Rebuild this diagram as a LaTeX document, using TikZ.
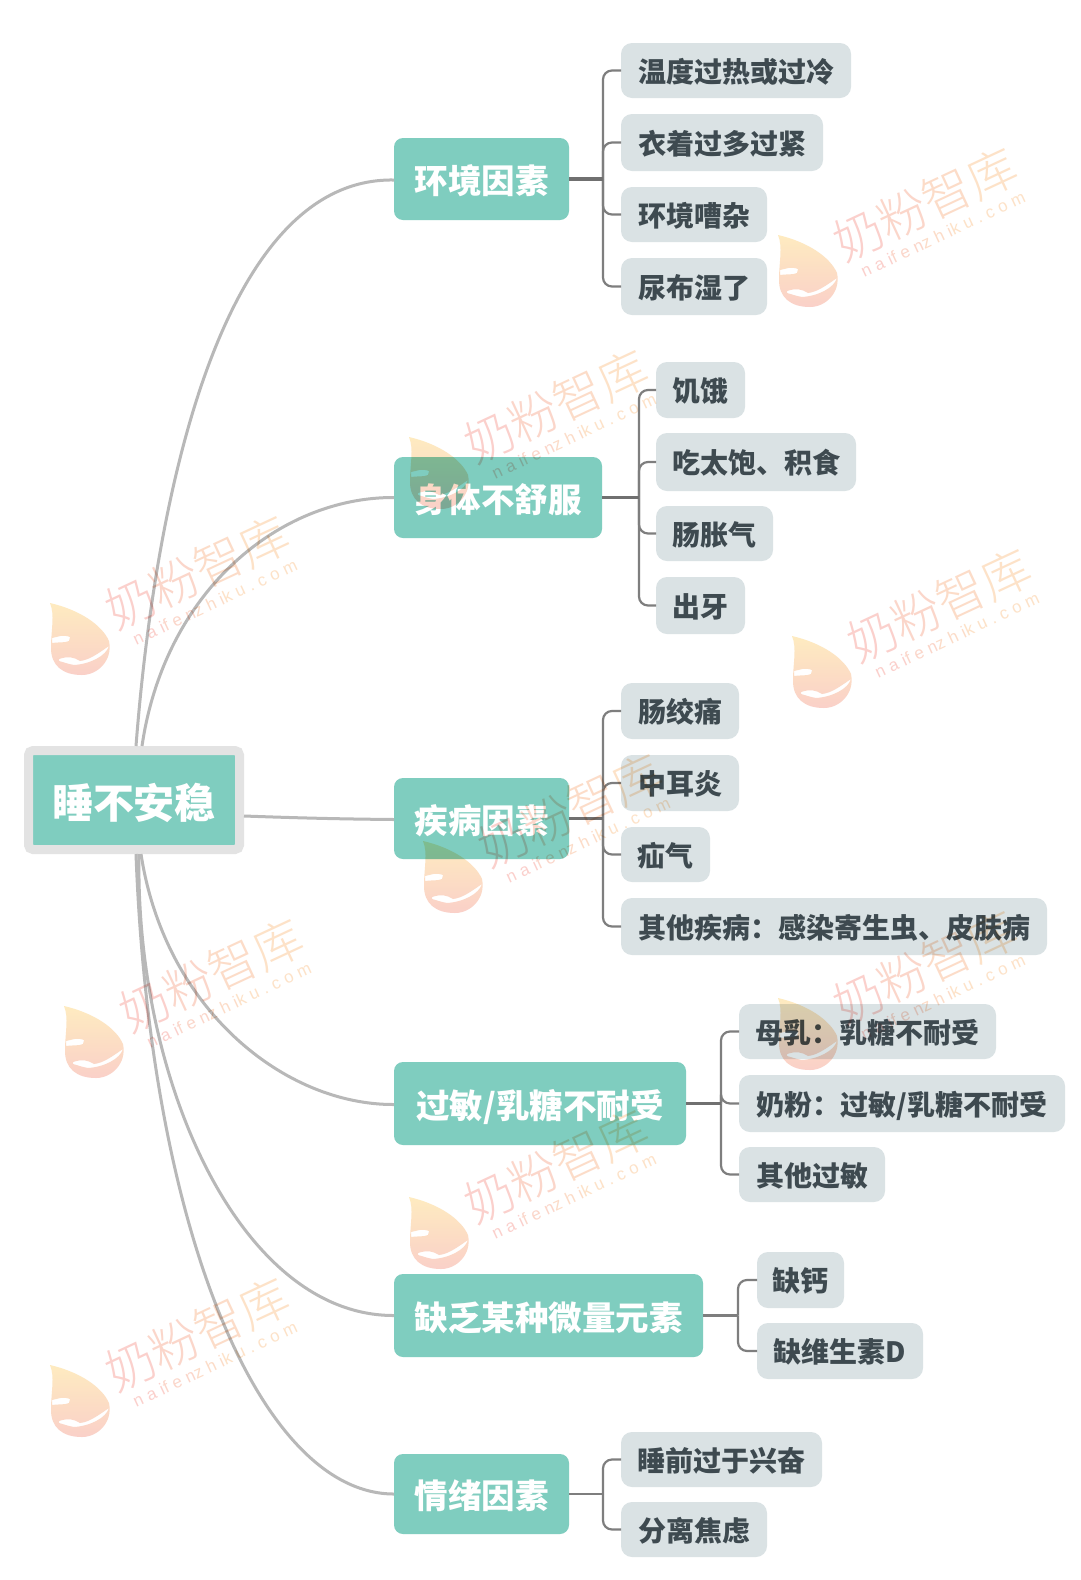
\documentclass[tikz,border=0pt]{standalone}
\usepackage{fontspec}
\setmainfont{Noto Sans CJK SC}
\newfontfamily\wmfont{Noto Sans CJK SC Light}
\newfontfamily\wmlat[LetterSpace=30]{Liberation Sans}
\definecolor{teal1}{HTML}{7FCDBF}
\definecolor{leaffill}{HTML}{DAE2E4}
\definecolor{leaftext}{HTML}{3E4A50}
\definecolor{curvegray}{HTML}{B8B8B8}
\definecolor{branchgray}{HTML}{7E7E7E}
\definecolor{stemgray}{HTML}{707070}
\definecolor{rootrim}{HTML}{E3E3E3}
\definecolor{wmo1}{HTML}{FBD0CC}
\definecolor{wmo2}{HTML}{FBD6CA}
\definecolor{wmo3}{HTML}{FCDCC8}
\definecolor{wmo4}{HTML}{FDE2C8}
\definecolor{wmy}{HTML}{FEEBC0}
\definecolor{wmb}{HTML}{FAD0C8}
\tikzset{
  rootbox/.style={fill=teal1,draw=rootrim,line width=9pt,rounded corners=4.5pt,text=white,font=\fontsize{41}{41}\selectfont\bfseries,inner sep=0pt},
  topicbox/.style={fill=teal1,rounded corners=9pt,text=white,font=\fontsize{33.5}{33.5}\selectfont\bfseries,inner sep=0pt,outer sep=0pt},
  leafbox/.style={fill=leaffill,rounded corners=11pt,text=leaftext,font=\fontsize{28}{28}\selectfont\bfseries,inner sep=0pt,outer sep=0pt},
  maincurve/.style={draw=curvegray,line width=3pt},
  branchline/.style={draw=branchgray,line width=2.2pt,rounded corners=9pt},
  stemline/.style={draw=stemgray,line width=3.4pt},
  thinstem/.style={draw=branchgray,line width=2.2pt},
  wmmain/.style={inner sep=0pt,rotate=25,font=\fontsize{49}{49}\selectfont\wmfont},
  wmsub/.style={inner sep=0pt,rotate=25,font=\fontsize{17}{17}\selectfont\wmlat},
}
\newcommand{\lf}[6]{\node[leafbox,minimum width={(#4-#2)*1pt},minimum height={(#5-#3)*1pt}] (#1) at ({(#2+#4)/2},{(#3+#5)/2}) {\raisebox{-11.6pt}[0pt][0pt]{#6}};}
\newcommand{\tp}[6]{\node[topicbox,minimum width={(#4-#2)*1pt},minimum height={(#5-#3)*1pt}] (#1) at ({(#2+#4)/2},{(#3+#5)/2}) {\raisebox{-14.7pt}[0pt][0pt]{#6}};}
\newcommand{\br}[3]{\draw[branchline] (#2 |- #1.east) -- (#2 |- #3.west) -- (#3.west);}
\newcommand{\wm}[3]{%
 \begin{scope}[shift={(#2,#3)},blend mode=multiply]
  \shade[top color=wmy,bottom color=wmb,even odd rule]
    (-30,-37) .. controls (0,-30) and (22,-15) .. (29,1)
    .. controls (33,20) and (18,35) .. (2,35)
    .. controls (-18,35) and (-29,25) .. (-29,8)
    .. controls (-29,-10) and (-25,-25) .. (-30,-37) -- cycle
    (-21,19) .. controls (-12,16) and (-6,17) .. (0,21)
    .. controls (10,20) and (20,12) .. (29,6) .. controls (26,16) and (10,24) .. (-6,25)
    .. controls (-12,24) and (-17,22) .. (-21,21) -- cycle
    (-28,-2) .. controls (-22,-3) and (-18,-6) .. (-10,-3)
    -- (-11,1) .. controls (-15,3) and (-22,2) .. (-28,3) -- cycle;
  \node[wmmain] (wa#1) at (117,-68) {\textcolor{wmo1}{奶}\textcolor{wmo2}{粉}\textcolor{wmo3}{智}\textcolor{wmo4}{库}};
  \node[wmsub] (wb#1) at (135,-38) {\textcolor{wmo1}{nai}\textcolor{wmo2}{fen}\textcolor{wmo3}{zhi}\textcolor{wmo4}{ku.com}};
 \end{scope}}
\begin{document}
\begin{tikzpicture}[x=1pt,y=-1pt]
\fill[white] (0,0) rectangle (1080,1580);
\useasboundingbox (0,0) rectangle (1080,1580);
% root
\node[rootbox,minimum width=211pt,minimum height=99pt] (root) at (134,800) {\raisebox{-18.6pt}[0pt][0pt]{睡不安稳}};
% topics
\tp{t1}{394}{138}{569}{220}{环境因素}
\tp{t2}{394}{457}{602}{538}{身体不舒服}
\tp{t3}{394}{778}{569}{859}{疾病因素}
\tp{t4}{394}{1062}{686}{1145}{过敏/乳糖不耐受}
\tp{t5}{394}{1274}{703}{1357}{缺乏某种微量元素}
\tp{t6}{394}{1454}{569}{1534}{情绪因素}
% leaves
\lf{a1}{621}{43}{851}{98}{温度过热或过冷}
\lf{a2}{621}{114}{823}{171}{衣着过多过紧}
\lf{a3}{621}{187}{767}{242}{环境嘈杂}
\lf{a4}{621}{258}{767}{315}{尿布湿了}
\lf{b1}{656}{362}{745}{418}{饥饿}
\lf{b2}{656}{433}{856}{491}{吃太饱、积食}
\lf{b3}{656}{506}{773}{561}{肠胀气}
\lf{b4}{656}{577}{745}{634}{出牙}
\lf{c1}{621}{683}{739}{739}{肠绞痛}
\lf{c2}{621}{755}{739}{811}{中耳炎}
\lf{c3}{621}{827}{710}{882}{疝气}
\lf{c4}{621}{898}{1047}{955}{其他疾病：感染寄生虫、皮肤病}
\lf{d1}{739}{1004}{996}{1059}{母乳：乳糖不耐受}
\lf{d2}{739}{1075}{1065}{1132}{奶粉：过敏/乳糖不耐受}
\lf{d3}{739}{1147}{885}{1202}{其他过敏}
\lf{e1}{757}{1252}{844}{1308}{缺钙}
\lf{e2}{757}{1323}{923}{1379}{缺维生素D}
\lf{f1}{621}{1432}{822}{1487}{睡前过于兴奋}
\lf{f2}{621}{1502}{767}{1557}{分离焦虑}
% main curves
\draw[maincurve] ([xshift=2pt]root.north) .. controls (155,500) and (220,177) .. ([yshift=-1pt]t1.west);
\draw[maincurve] ([xshift=8pt]root.north) .. controls (165,590) and (280,497) .. (t2.west);
\draw[maincurve] ([yshift=-16pt]root.east) .. controls (300,818) and (340,819) .. ([yshift=-1pt]t3.west);
\draw[maincurve] ([xshift=7pt]root.south) .. controls (165,1010) and (285,1105) .. ([yshift=-1pt]t4.west);
\draw[maincurve] ([xshift=5pt]root.south) .. controls (135,1080) and (240,1316) .. (t5.west);
\draw[maincurve] ([xshift=2pt]root.south) .. controls (150,1230) and (260,1494) .. (t6.west);
% branch trunks
\coordinate (ta) at (603,0);
\coordinate (tb) at (639,0);
\coordinate (tc) at (603,0);
\coordinate (td) at (721,0);
\coordinate (te) at (738,0);
\coordinate (tf) at (603,0);
\br{t1}{ta}{a1}\br{t1}{ta}{a2}\br{t1}{ta}{a3}\br{t1}{ta}{a4}
\br{t2}{tb}{b1}\br{t2}{tb}{b2}\br{t2}{tb}{b3}\br{t2}{tb}{b4}
\br{t3}{tc}{c1}\br{t3}{tc}{c2}\br{t3}{tc}{c3}\br{t3}{tc}{c4}
\br{t4}{td}{d1}\br{t4}{td}{d2}\br{t4}{td}{d3}
\br{t5}{te}{e1}\br{t5}{te}{e2}
\br{t6}{tf}{f1}\br{t6}{tf}{f2}
\draw[stemline] (t1.east) -- (ta |- t1.east);
\draw[stemline] (t2.east) -- (tb |- t2.east);
\draw[stemline] (t3.east) -- (tc |- t3.east);
\draw[stemline] (t4.east) -- (td |- t4.east);
\draw[thinstem] (t5.east) -- (te |- t5.east);
\draw[thinstem] (t6.east) -- (tf |- t6.east);
% watermarks
\wm{1}{808}{272}
\wm{2}{439}{474}
\wm{3}{80}{640}
\wm{4}{822}{673}
\wm{5}{453}{878}
\wm{6}{808}{1035}
\wm{7}{94}{1043}
\wm{8}{439}{1234}
\wm{9}{80}{1402}
\end{tikzpicture}
\end{document}
